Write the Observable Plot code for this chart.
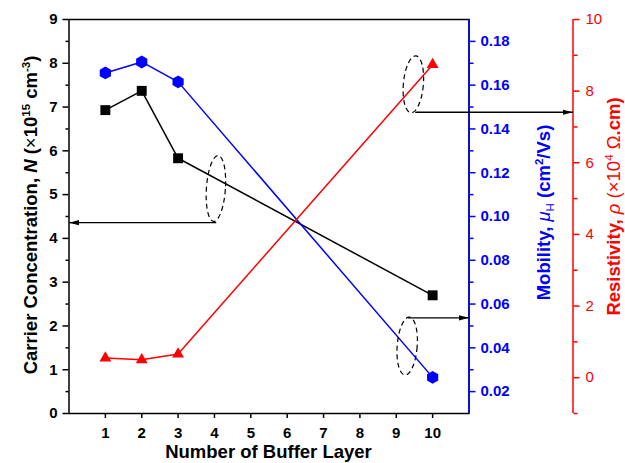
<!DOCTYPE html>
<html>
<head>
<meta charset="utf-8">
<script src="https://cdn.jsdelivr.net/npm/d3@7"></script>
<script src="https://cdn.jsdelivr.net/npm/@observablehq/plot@0.6"></script>
<style>
  html, body { margin: 0; padding: 0; background: #fff; }
  svg { overflow: visible; }
</style>
</head>
<body>
<div id="chart"></div>
<script>
// ---- data ----
const layers = [1, 2, 3, 10];
const carrier = [6.93, 7.37, 5.83, 2.70];          // N (x10^15 cm^-3)
const mobility = [0.1656, 0.1706, 0.1615, 0.0265]; // cm^2/Vs
const resistivity = [0.55, 0.50, 0.66, 8.74];      // x10^4 ohm.cm

const xTicks = [1, 2, 3, 4, 5, 6, 7, 8, 9, 10];
const nTicks = [0, 1, 2, 3, 4, 5, 6, 7, 8, 9];
const nMinor = [0.5, 1.5, 2.5, 3.5, 4.5, 5.5, 6.5, 7.5, 8.5];
const muTicks = [0.02, 0.04, 0.06, 0.08, 0.10, 0.12, 0.14, 0.16, 0.18];
const muMinor = [0.03, 0.05, 0.07, 0.09, 0.11, 0.13, 0.15, 0.17];
const rhoTicks = [0, 2, 4, 6, 8, 10];
const rhoMinor = [-1, 1, 3, 5, 7, 9];

const xDomain = [0, 11];
const nDomain = [0, 9];
const muDomain = [0.01, 0.19];
const rhoDomain = [-1, 10];

// annotation (which axis each bracket points to)
const ellipseN = [{x: 4.04, n: 5.14}];
const ellipseRho = [{x: 9.47, rho: 8.19}];
const ellipseMu = [{x: 9.30, mu: 0.0408}];
const arrowN = [{x1: 4.05, x2: 0, n: 4.36}];
const arrowRho = [{x1: 9.52, rho: 7.41}];
const arrowMu = [{x1: 9.32, x2: 11, mu: 0.0537}];

// ---- layout ----
const W = 625, H = 463, mL = 68.5, mR = 156.5, mT = 19, mB = 50;
const redOffset = 104;
const font = "'Liberation Sans', Arial, Helvetica, sans-serif";

// map secondary axes onto the primary (N) scale
const muToN = v => (v - muDomain[0]) / (muDomain[1] - muDomain[0]) * (nDomain[1] - nDomain[0]) + nDomain[0];
const nToMu = v => (v - nDomain[0]) / (nDomain[1] - nDomain[0]) * (muDomain[1] - muDomain[0]) + muDomain[0];
const rhoToN = v => (v - rhoDomain[0]) / (rhoDomain[1] - rhoDomain[0]) * (nDomain[1] - nDomain[0]) + nDomain[0];
const nToRho = v => (v - nDomain[0]) / (nDomain[1] - nDomain[0]) * (rhoDomain[1] - rhoDomain[0]) + rhoDomain[0];
const redAxisX = xDomain[1] + redOffset / ((W - mL - mR) / (xDomain[1] - xDomain[0]));

const rows = layers.map((l, i) => ({layer: l, n: carrier[i], mu: mobility[i], rho: resistivity[i]}));

function ellipseSymbol(rx, ry) {
  const k = 0.5522847;
  return {
    draw(ctx) {
      ctx.moveTo(rx, 0);
      ctx.bezierCurveTo(rx, ry * k, rx * k, ry, 0, ry);
      ctx.bezierCurveTo(-rx * k, ry, -rx, ry * k, -rx, 0);
      ctx.bezierCurveTo(-rx, -ry * k, -rx * k, -ry, 0, -ry);
      ctx.bezierCurveTo(rx * k, -ry, rx, -ry * k, rx, 0);
      ctx.closePath();
    }
  };
}

function arrowHead(color) {
  const ns = "http://www.w3.org/2000/svg";
  const m = document.createElementNS(ns, "marker");
  m.setAttribute("viewBox", "-10 -4 10 8");
  m.setAttribute("markerWidth", "10");
  m.setAttribute("markerHeight", "8");
  m.setAttribute("markerUnits", "userSpaceOnUse");
  m.setAttribute("orient", "auto");
  m.setAttribute("refX", "0");
  m.setAttribute("refY", "0");
  const p = document.createElementNS(ns, "path");
  p.setAttribute("d", "M-10,-2.6L0,0L-10,2.6Z");
  p.setAttribute("fill", "black");
  p.setAttribute("stroke", "none");
  m.appendChild(p);
  return m;
}

const dashStyle = {stroke: "black", fill: "none", strokeWidth: 1.2, strokeDasharray: "5,3.5"};

const chart = Plot.plot({
  width: W, height: H,
  marginLeft: mL, marginRight: mR, marginTop: mT, marginBottom: mB,
  x: {domain: xDomain},
  y: {domain: nDomain},
  style: {fontFamily: font, fontSize: "15px", color: "black", background: "white", overflow: "visible"},
  marks: [
    // axes
    Plot.axisX({ticks: xTicks, tickSize: 5, tickPadding: 9, fontWeight: "bold", fontSize: 15, label: null, strokeWidth: 1.5}),
    Plot.axisY({ticks: nTicks, tickSize: 6, tickPadding: 5.5, fontWeight: "bold", fontSize: 15, label: null, strokeWidth: 1.5}),
    Plot.axisY({ticks: nMinor, tickSize: 3, tickFormat: () => "", label: null, strokeWidth: 1.5}),
    Plot.axisY({ticks: muTicks.map(muToN), anchor: "right", tickSize: 6, tickPadding: 5.5,
      tickFormat: v => nToMu(v).toFixed(2), color: "#0000ff", fontWeight: "bold", fontSize: 15, label: null, strokeWidth: 1.5}),
    Plot.axisY({ticks: muMinor.map(muToN), anchor: "right", tickSize: 4, tickFormat: () => "",
      color: "#0000ff", label: null, strokeWidth: 1.5}),
    Plot.axisY({ticks: rhoTicks.map(rhoToN), anchor: "right", dx: redOffset, tickSize: 6, tickPadding: 6.5,
      tickFormat: v => String(Math.round(nToRho(v))), color: "#ff0000", fontWeight: "normal", fontSize: 15, label: null, strokeWidth: 1.5}),
    Plot.axisY({ticks: rhoMinor.map(rhoToN), anchor: "right", dx: redOffset, tickSize: 4, tickFormat: () => "",
      color: "#ff0000", label: null, strokeWidth: 1.5}),
    Plot.frame({stroke: "black", strokeWidth: 1.5}),
    Plot.ruleX([xDomain[1]], {stroke: "#0000ff", strokeWidth: 1.5}),
    Plot.ruleX([xDomain[1]], {stroke: "#ff0000", strokeWidth: 1.5, dx: redOffset}),

    // series
    Plot.line(rows, {x: "layer", y: "n", stroke: "black", strokeWidth: 1.5}),
    Plot.line(rows, {x: "layer", y: d => muToN(d.mu), stroke: "#0000ff", strokeWidth: 1.5}),
    Plot.line(rows, {x: "layer", y: d => rhoToN(d.rho), stroke: "#ff0000", strokeWidth: 1.5}),
    Plot.dot(rows, {x: "layer", y: "n", symbol: "square", r: 5.6, fill: "black"}),
    Plot.dot(rows, {x: "layer", y: d => muToN(d.mu), symbol: "hexagon", r: 5.6, fill: "#0000ff"}),
    Plot.dot(rows, {x: "layer", y: d => rhoToN(d.rho), symbol: "triangle", r: 4.4, fill: "#ff0000"}),

    // annotations
    Plot.dot(ellipseN, {x: "x", y: "n", symbol: ellipseSymbol(9.5, 33), rotate: 4, ...dashStyle}),
    Plot.dot(ellipseRho, {x: "x", y: d => rhoToN(d.rho), symbol: ellipseSymbol(10, 28.5), rotate: 5, ...dashStyle}),
    Plot.dot(ellipseMu, {x: "x", y: d => muToN(d.mu), symbol: ellipseSymbol(10, 29), rotate: 4.5, ...dashStyle}),
    Plot.link(arrowN, {x1: "x1", x2: "x2", y1: "n", y2: "n", stroke: "black", strokeWidth: 1.3, markerEnd: arrowHead}),
    Plot.link(arrowRho, {x1: "x1", x2: () => redAxisX, y1: d => rhoToN(d.rho), y2: d => rhoToN(d.rho), stroke: "black", strokeWidth: 1.3, markerEnd: arrowHead}),
    Plot.link(arrowMu, {x1: "x1", x2: "x2", y1: d => muToN(d.mu), y2: d => muToN(d.mu), stroke: "black", strokeWidth: 1.3, markerEnd: arrowHead})
  ]
});

document.getElementById("chart").appendChild(chart);

// ---- axis titles ----
const svg = d3.select(chart);
const titleSize = 18.5;
function addTitle(x, y, rotate, fill, parts) {
  const t = svg.append("text")
    .attr("transform", `translate(${x},${y})` + (rotate ? ` rotate(${rotate})` : ""))
    .attr("text-anchor", "middle")
    .attr("font-family", font)
    .attr("font-size", titleSize)
    .attr("font-weight", "bold")
    .attr("fill", fill);
  let shift = 0;
  for (const p of parts) {
    const s = t.append("tspan").text(p.t);
    let target = 0;
    if (p.sup) { target = -7; s.attr("font-size", 11.5); }
    if (p.sub) { target = 4; s.attr("font-size", 11.5); }
    if (target !== shift) { s.attr("dy", target - shift); shift = target; }
    if (p.i) s.attr("font-style", "italic");
    if (p.nb) s.attr("font-weight", "normal");
  }
}

addTitle(37, 215, -90, "black", [
  {t: "Carrier Concentration, "}, {t: "N", i: true}, {t: " ("}, {t: "×", nb: true}, {t: "10"},
  {t: "15", sup: true}, {t: " cm"}, {t: "-3", sup: true}, {t: ")"}
]);
addTitle(550, 212.5, -90, "#0000ff", [
  {t: "Mobility, "}, {t: "μ", i: true, nb: true}, {t: "H", sub: true, nb: true}, {t: " (cm"},
  {t: "2", sup: true}, {t: "/Vs)"}
]);
addTitle(620, 206.5, -90, "#ff0000", [
  {t: "Resistivity, "}, {t: "ρ", i: true, nb: true}, {t: " (×10", nb: true}, {t: "4", sup: true, nb: true},
  {t: " Ω", nb: true}, {t: ".cm)"}
]);
addTitle(268.5, 458, 0, "black", [{t: "Number of Buffer Layer"}]);
</script>
</body>
</html>
